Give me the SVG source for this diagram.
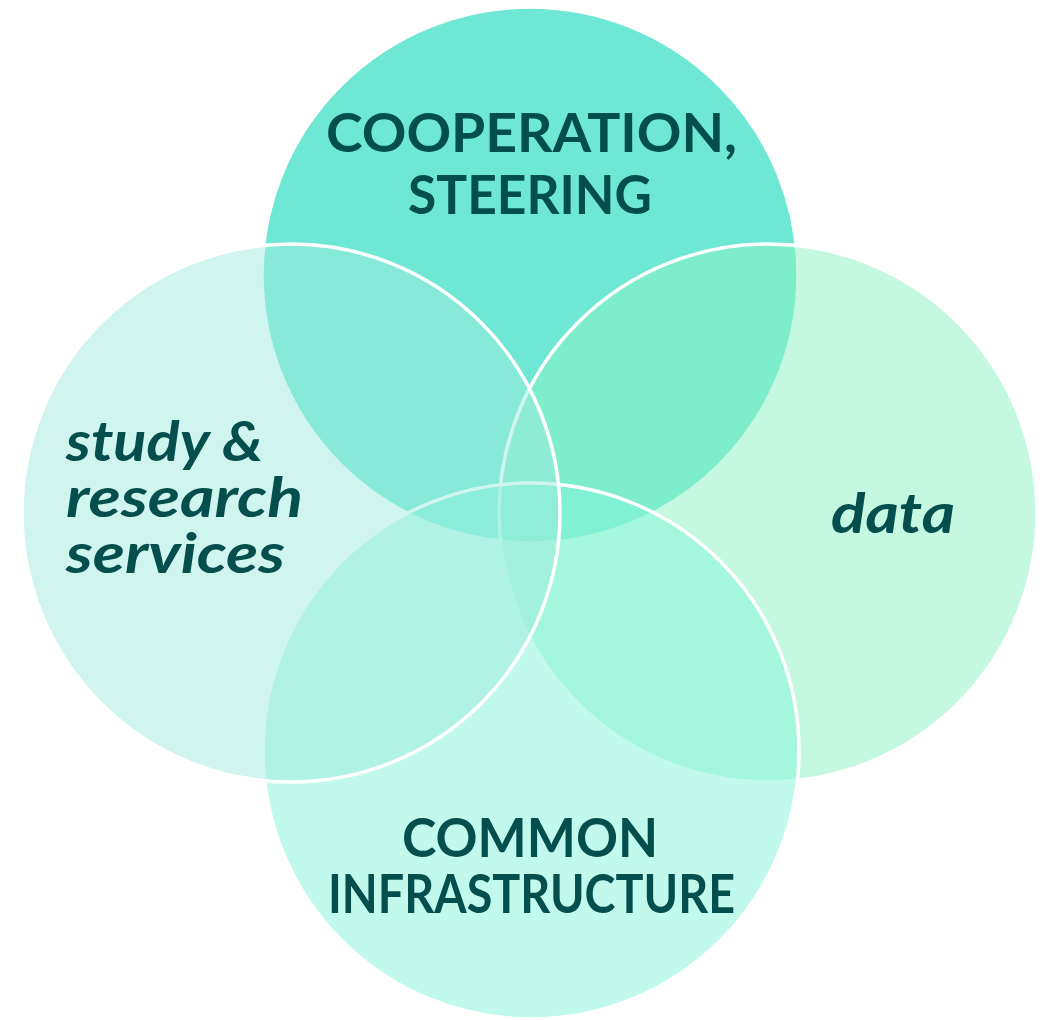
<svg xmlns="http://www.w3.org/2000/svg" width="1046" height="1020" viewBox="0 0 1046 1020">
<style>
.c{stroke:#FFFFFF;stroke-width:3.5}
.t{font-family:Lato,"DejaVu Sans","Liberation Sans",sans-serif;font-weight:bold;font-size:54px;fill:#044E4E}
.i{font-style:italic;font-size:56px}
</style>
<rect width="1046" height="1020" fill="#FFFFFF"/>
<g id="node-cooperation">
<circle class="c" cx="530" cy="275" r="268" fill="#6EE8D4"/>
<text class="t" x="326" y="152" textLength="411" lengthAdjust="spacingAndGlyphs">COOPERATION,</text>
<text class="t" x="408" y="214" textLength="244" lengthAdjust="spacingAndGlyphs">STEERING</text>
</g>
<g id="node-data">
<circle class="c" cx="768" cy="513" r="269" fill="#8BF1C1" fill-opacity="0.5"/>
<text class="t i" x="831" y="533" textLength="124" lengthAdjust="spacingAndGlyphs">data</text>
</g>
<g id="node-infrastructure">
<circle class="c" cx="531" cy="751" r="268" fill="#83F5D9" fill-opacity="0.5"/>
<text class="t" x="402" y="857" textLength="256" lengthAdjust="spacingAndGlyphs">COMMON</text>
<text class="t" x="328" y="913" textLength="407" lengthAdjust="spacingAndGlyphs">INFRASTRUCTURE</text>
</g>
<g id="node-study">
<circle class="c" cx="291" cy="513" r="269" fill="#9FEBDD" fill-opacity="0.5"/>
<text class="t i" x="66" y="461" textLength="197" lengthAdjust="spacingAndGlyphs">study &amp;</text>
<text class="t i" x="66" y="517" textLength="237" lengthAdjust="spacingAndGlyphs">research</text>
<text class="t i" x="66" y="573" textLength="219" lengthAdjust="spacingAndGlyphs">services</text>
</g>
</svg>
